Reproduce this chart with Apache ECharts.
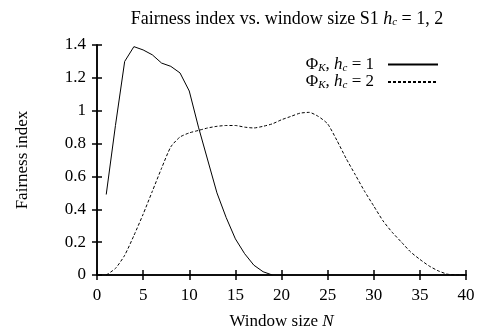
<!DOCTYPE html>
<html><head><meta charset="utf-8">
<script src="https://cdn.jsdelivr.net/npm/echarts@6/dist/echarts.min.js"></script>
<style>html,body{margin:0;padding:0;background:#fff}#c{width:478px;height:335px}</style>
</head><body><div id="c"></div>
<script>
const windowSizes = [1,2,3,4,5,6,7,8,9,10,11,12,13,14,15,16,17,18,19,20,21,22,23,24,25,26,27,28,29,30,31,32,33,34,35,36,37,38,39,40];
const phiHc1 = [0.49,0.91,1.30,1.39,1.37,1.34,1.29,1.27,1.23,1.12,0.90,0.70,0.50,0.35,0.22,0.13,0.06,0.02,0,0,0,0,0,0,0,0,0,0,0,0,0,0,0,0,0,0,0,0,0,0];
const phiHc2 = [0,0.04,0.12,0.24,0.37,0.51,0.65,0.78,0.84,0.865,0.88,0.895,0.905,0.91,0.91,0.90,0.895,0.905,0.92,0.945,0.965,0.985,0.99,0.965,0.92,0.82,0.71,0.61,0.51,0.42,0.33,0.26,0.20,0.14,0.095,0.055,0.025,0.005,0,0];
const xTicks = [0,5,10,15,20,25,30,35,40];
const yTicks = [0,0.2,0.4,0.6,0.8,1,1.2,1.4];

const FONT = 'Liberation Serif';
const FS = 17;
const chart = echarts.init(document.getElementById('c'), null, {renderer:'canvas'});
const toPairs = (ys) => windowSizes.map((x,i)=>[x, ys[i]]);
const richSub = {
  it:{fontFamily:FONT,fontStyle:'italic',fontSize:FS,color:'#000'},
  subit:{fontFamily:FONT,fontStyle:'italic',fontSize:11,color:'#000',padding:[7,0,0,0]},
  n:{fontFamily:FONT,fontSize:FS,color:'#000'}
};
const axisCommon = {
  axisLine:{show:true,lineStyle:{color:'#000',width:1.5}},
  axisTick:{show:true,inside:true,length:5,lineStyle:{color:'#000',width:1.5}},
  splitLine:{show:false}
};
chart.setOption({
  animation:false,
  backgroundColor:'#fff',
  title:{
    text:'Fairness index vs. window size S1 {it|h}{subit|c}{n| = 1, 2}',
    left:282, top:5, textAlign:'center',
    textStyle:{fontFamily:FONT,fontSize:18,fontWeight:'normal',color:'#000',
      rich:Object.assign({}, richSub, {n:{fontFamily:FONT,fontSize:18,color:'#000'},it:{fontFamily:FONT,fontStyle:'italic',fontSize:18,color:'#000'}})}
  },
  legend:{
    orient:'vertical', right:34, top:51, align:'right',
    itemWidth:50, itemHeight:12, itemGap:0,
    itemStyle:{opacity:0},
    textStyle:{fontFamily:FONT,fontSize:FS,color:'#000',rich:richSub,padding:[0,9,0,0]},
    formatter:function(name){
      const v = name.slice(-1);
      return '{n|Φ}{subit|K}{n|, }{it|h}{subit|c}{n| = '+v+'}';
    },
    data:['hc1','hc2']
  },
  grid:{left:97,right:12,top:45,bottom:60},
  xAxis:[
    Object.assign({type:'value',min:0,max:40,interval:5,position:'bottom',
      name:'Window size {it|N}',nameLocation:'middle',nameGap:38,
      nameTextStyle:{fontFamily:FONT,fontSize:FS,color:'#000',rich:richSub},
      axisLabel:{fontFamily:FONT,fontSize:FS,color:'#000',margin:12,
        customValues:xTicks}}, axisCommon),
    Object.assign({type:'value',min:0,max:40,interval:5,position:'top',axisLabel:{show:false}}, axisCommon)
  ],
  yAxis:[
    Object.assign({type:'value',min:0,max:1.4,interval:0.2,position:'left',
      name:'Fairness index',nameLocation:'middle',nameGap:66,nameRotate:90,
      nameTextStyle:{fontFamily:FONT,fontSize:FS,color:'#000'},
      axisLabel:{fontFamily:FONT,fontSize:FS,color:'#000',margin:11,
        formatter:function(v){return String(Math.round(v*10)/10);}}}, axisCommon),
    Object.assign({type:'value',min:0,max:1.4,interval:0.2,position:'right',axisLabel:{show:false}}, axisCommon)
  ],
  series:[
    {name:'hc1',type:'line',data:toPairs(phiHc1).slice(0,19),showSymbol:false,symbol:'none',
      lineStyle:{color:'#000',width:1},itemStyle:{color:'#000'}},
    {name:'hc2',type:'line',data:toPairs(phiHc2),showSymbol:false,symbol:'none',smooth:0.2,
      lineStyle:{color:'#000',width:1,type:[3,2]},itemStyle:{color:'#000'}}
  ]
});
</script></body></html>
